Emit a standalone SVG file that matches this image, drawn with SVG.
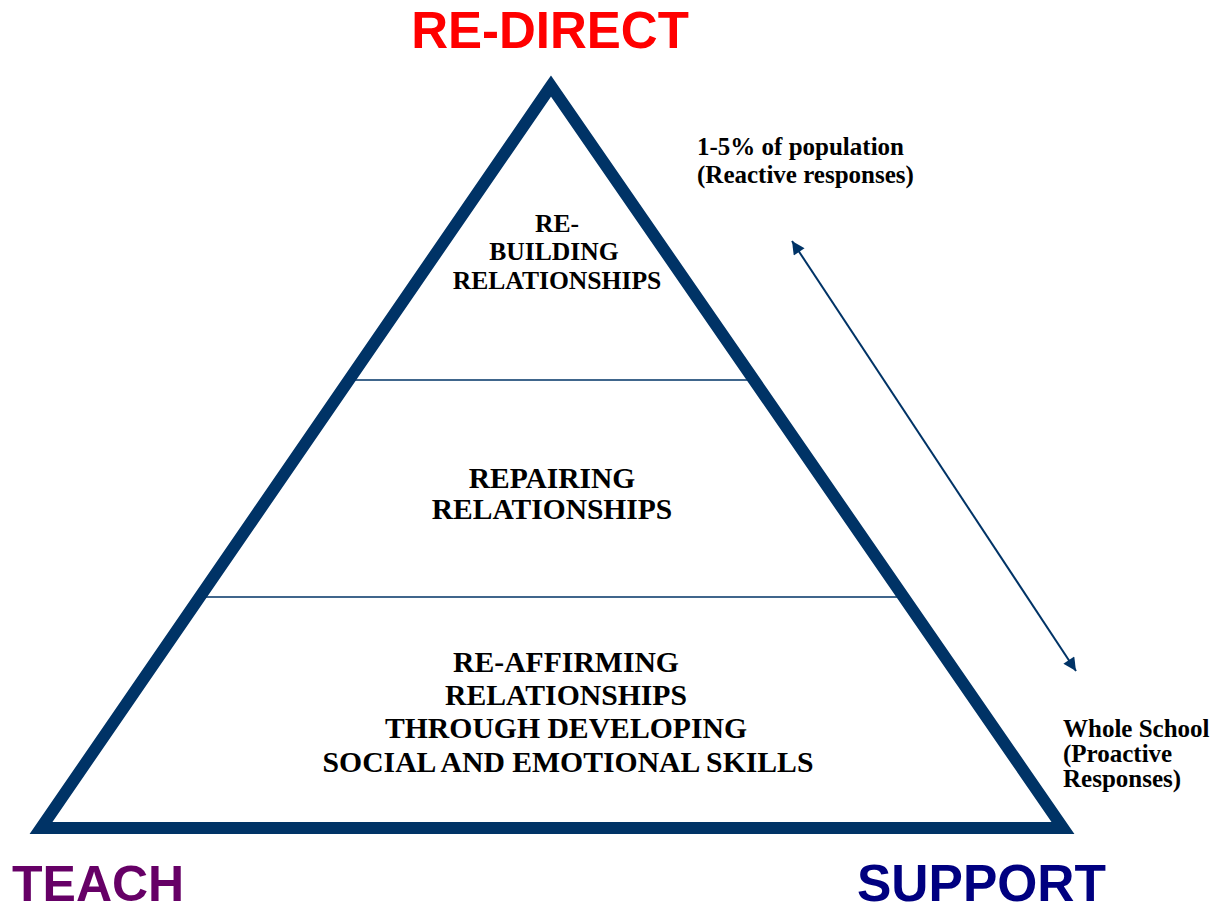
<svg xmlns="http://www.w3.org/2000/svg" width="1223" height="911" viewBox="0 0 1223 911">
<style>
.lbl{font-family:"Liberation Serif","Times New Roman",serif;font-weight:bold;fill:#000;}
.big{font-family:"Liberation Sans",Arial,sans-serif;font-weight:bold;}
.div{stroke:#003366;stroke-width:1.5;fill:none;}
</style>
<defs>
<marker id="ah" viewBox="0 0 10 10" refX="10" refY="5" markerWidth="16" markerHeight="13" markerUnits="userSpaceOnUse" orient="auto-start-reverse">
<path d="M0,0 L10,5 L0,10 z" fill="#003366"/>
</marker>
</defs>
<rect width="1223" height="911" fill="#fff"/>
<g id="pyramid">
<polygon points="551,86 41,828 1063,828" fill="#fff" stroke="#003366" stroke-width="12" stroke-linejoin="miter" stroke-miterlimit="10"/>
<line class="div" x1="355" y1="380" x2="748" y2="380"/>
<line class="div" x1="206" y1="597" x2="897" y2="597"/>
</g>
<g id="tier-top">
<text class="lbl" font-size="25.6" text-anchor="middle"><tspan x="557" y="232">RE-</tspan><tspan x="554" y="260">BUILDING</tspan><tspan x="557" y="289">RELATIONSHIPS</tspan></text>
</g>
<g id="tier-middle">
<text class="lbl" font-size="29.5" text-anchor="middle"><tspan x="552" y="488">REPAIRING</tspan><tspan x="552" y="519">RELATIONSHIPS</tspan></text>
</g>
<g id="tier-bottom">
<text class="lbl" font-size="29.7" text-anchor="middle"><tspan x="566" y="672">RE-AFFIRMING</tspan><tspan x="566" y="705">RELATIONSHIPS</tspan><tspan x="566" y="738">THROUGH DEVELOPING</tspan><tspan x="568" y="772">SOCIAL AND EMOTIONAL SKILLS</tspan></text>
</g>
<g id="connectors">
<line x1="792" y1="241" x2="1076" y2="671" stroke="#003366" stroke-width="2" marker-start="url(#ah)" marker-end="url(#ah)"/>
</g>
<g id="note-top">
<text class="lbl" font-size="25"><tspan x="697" y="155">1-5% of population</tspan><tspan x="697" y="183">(Reactive responses)</tspan></text>
</g>
<g id="note-bottom">
<text class="lbl" font-size="25"><tspan x="1063" y="737">Whole School</tspan><tspan x="1063" y="762">(Proactive</tspan><tspan x="1063" y="787">Responses)</tspan></text>
</g>
<g id="redirect"><text class="big" x="550" y="48" font-size="51" fill="#ff0000" text-anchor="middle">RE-DIRECT</text></g>
<g id="teach"><text class="big" x="12" y="901" font-size="50" fill="#660066">TEACH</text></g>
<g id="support"><text class="big" x="857" y="901" font-size="51.5" fill="#000080">SUPPORT</text></g>
</svg>
